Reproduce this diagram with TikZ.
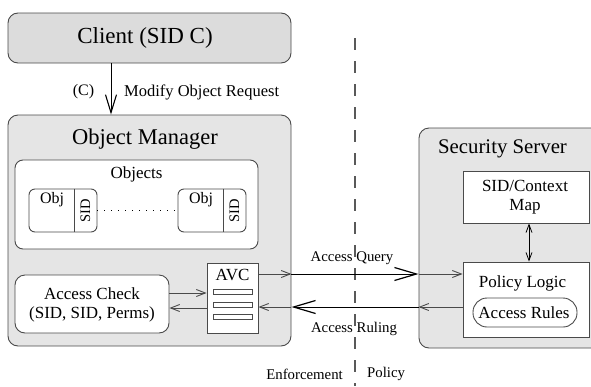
\documentclass[tikz,border=0pt]{standalone}
\usepackage{fontspec}
\setmainfont{Liberation Serif}
\usetikzlibrary{arrows.meta}
\definecolor{boxgray}{HTML}{E5E5E5}
\definecolor{clientgray}{HTML}{DCDCDC}
\definecolor{linegray}{HTML}{4A4A4A}
\newcommand{\fs}[1]{\fontsize{#1}{1.15\dimexpr #1pt\relax}\selectfont}
\tikzset{
  outerbox/.style={draw=linegray, line width=0.9pt, fill=boxgray, rounded corners=10pt, inner sep=0pt},
  whitebox/.style={draw=linegray, line width=0.9pt, fill=white, inner sep=0pt},
  txt/.style={inner sep=0pt, text=black},
  smallarr/.style={draw=linegray, line width=0.9pt, -{Straight Barb[length=9pt,width=7pt]}},
  bigarr/.style={draw=black, line width=0.9pt, -{Straight Barb[length=22pt,width=13pt,line width=1.2pt]}},
  dbl/.style={draw=black, line width=0.8pt, {Straight Barb[length=8pt,width=6pt]}-{Straight Barb[length=8pt,width=6pt]}},
}
\begin{document}
\begin{tikzpicture}[x=1pt,y=-1pt]
\clip (0,0) rectangle (591,386);
\useasboundingbox (0,0) rectangle (591,386);
% client
\node[outerbox, fill=clientgray, minimum width=283pt, minimum height=50pt] (client) at (149.5,38) {};
\node[txt] (clienttxt) at (145,38) {\fs{23}Client (SID C)};
% object manager
\node[outerbox, minimum width=283pt, minimum height=231pt] (om) at (149.5,230.5) {};
\node[txt] (omtxt) at (145,139) {\fs{22.5}Object Manager};
% objects
\node[whitebox, rounded corners=8pt, minimum width=243pt, minimum height=89pt] (objects) at (136.5,204.5) {};
\node[txt] (objtitle) at (136.5,174) {\fs{17}Objects};
\node[whitebox, rounded corners=6pt, minimum width=68pt, minimum height=43pt] (obja) at (63,210.5) {};
\node[whitebox, rounded corners=6pt, minimum width=68pt, minimum height=43pt] (objb) at (212,210.5) {};
\coordinate (da) at (74,0);
\coordinate (db) at (223,0);
\draw[linegray, line width=0.9pt] (obja.north -| da) -- (obja.south -| da);
\draw[linegray, line width=0.9pt] (objb.north -| db) -- (objb.south -| db);
\node[txt] (objatxt) at (52,200) {\fs{16}Obj};
\node[txt] (objbtxt) at (201,200) {\fs{16}Obj};
\node[txt, rotate=90] (sida) at (85.5,210.5) {\fs{14.5}SID};
\node[txt, rotate=90] (sidb) at (234.5,210.5) {\fs{14.5}SID};
\draw[black, line width=0.8pt, dash pattern=on 1pt off 6pt] (obja.east) -- (objb.west);
% access check
\node[whitebox, rounded corners=10pt, minimum width=154pt, minimum height=58pt] (ac) at (92,304) {};
\node[txt, align=center, font=\fs{17}] (actxt) at (92,305) {Access Check\\[0pt](SID, SID, Perms)};
% AVC
\node[whitebox, minimum width=51pt, minimum height=70pt] (avc) at (232.5,298) {};
\node[txt] (avctxt) at (232.5,275) {\fs{17}AVC};
\node[whitebox, minimum width=39pt, minimum height=5pt] (bar1) at (232.5,291.5) {};
\node[whitebox, minimum width=39pt, minimum height=5pt] (bar2) at (232.5,304.5) {};
\node[whitebox, minimum width=39pt, minimum height=5pt] (bar3) at (232.5,317) {};
% security server
\node[outerbox, minimum width=186pt, minimum height=220pt] (ss) at (512,238) {};
\node[txt] (sstxt) at (502.5,149) {\fs{20.8}Security Server};
\node[whitebox, minimum width=126pt, minimum height=52pt] (sidmap) at (526,197) {};
\node[txt, align=center, font=\fs{17}] (sidmaptxt) at (525,197) {SID/Context\\[-1pt]Map};
\node[whitebox, minimum width=126pt, minimum height=75pt] (pl) at (526,299.5) {};
\node[txt] (pltxt) at (522.5,283) {\fs{17}Policy Logic};
\node[whitebox, rounded corners=14pt, minimum width=104pt, minimum height=29pt] (rules) at (525,312.5) {};
\node[txt] (rulestxt) at (524,312.5) {\fs{17}Access Rules};
% dashed separator
\coordinate (dtop) at (355,38);
\coordinate (dbot) at (355,386);
\draw[black!65, line width=1.1pt, dash pattern=on 12pt off 11pt] (dtop) -- (dbot);
% modify request
\coordinate (mx) at (111,0);
\draw[black, line width=0.9pt, -{Straight Barb[length=18pt,width=11pt,line width=1.1pt]}] (client.south -| mx) -- (om.north -| mx);
\node[txt] (ctxt) at (83.5,92) {\fs{16}(C)};
\node[txt, anchor=west] (modtxt) at (124,92) {\fs{16.5}Modify Object Request};
% access check <-> avc
\coordinate (y1) at (0,293);
\coordinate (y2) at (0,308);
\draw[smallarr] (ac.east |- y1) -- (avc.west |- y1);
\draw[smallarr] (avc.west |- y2) -- (ac.east |- y2);
% query / ruling
\coordinate (yq) at (0,274);
\coordinate (yr) at (0,307);
\draw[smallarr] (avc.east |- yq) -- (om.east |- yq);
\draw[bigarr] (om.east |- yq) -- (ss.west |- yq);
\draw[smallarr] (ss.west |- yq) -- (pl.west |- yq);
\draw[smallarr] (pl.west |- yr) -- (ss.west |- yr);
\draw[bigarr] (ss.west |- yr) -- (om.east |- yr);
\draw[smallarr] (om.east |- yr) -- (avc.east |- yr);
\node[txt] (qtxt) at (352,258) {\fs{14.8}Access Query};
\node[txt] (rtxt) at (354,329) {\fs{14.8}Access Ruling};
% sidmap <-> policy logic
\coordinate (xa) at (529,0);
\draw[dbl] (sidmap.south -| xa) -- (pl.north -| xa);
% region labels
\node[txt, anchor=east] (enf) at (343,374) {\fs{14.8}Enforcement};
\node[txt, anchor=west] (pol) at (367,374) {\fs{14.8}Policy};
\end{tikzpicture}
\end{document}
